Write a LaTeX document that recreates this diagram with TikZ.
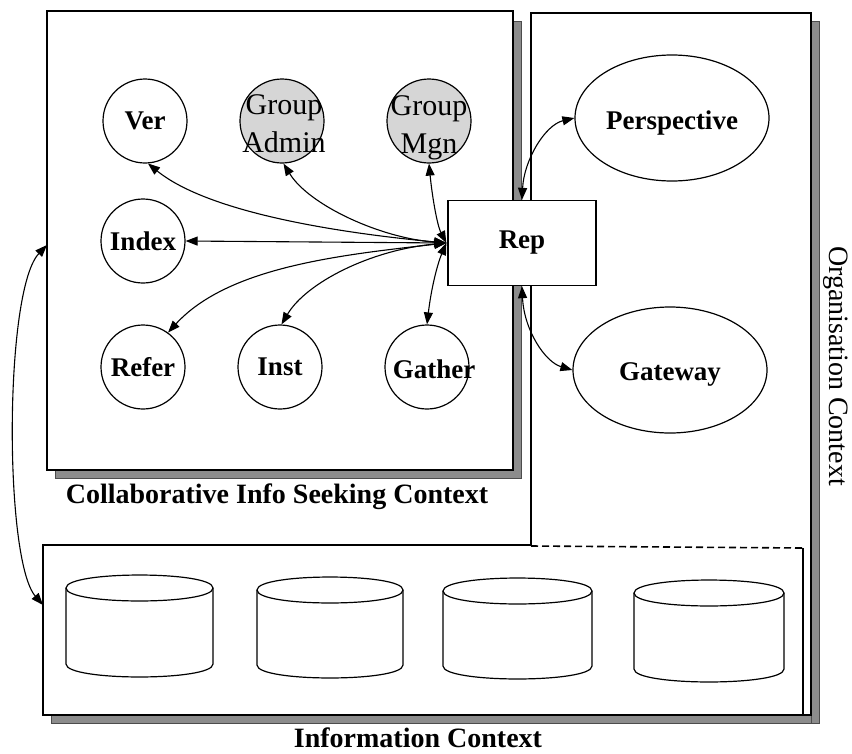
\documentclass[tikz,border=0pt]{standalone}
\usepackage{fontspec}
\setmainfont{Liberation Serif}
\usetikzlibrary{shapes.geometric,arrows.meta}

% drum-shaped data store: name, left x, right x, top rim y, bottom rim y
\newcommand\dbdrum[5]{%
  \coordinate (#1) at ({(#2+#3)/2},{(#4+#5)/2});
  \draw[drum] (#2,#4) .. controls (#2,#4-17.3) and (#3,#4-17.3) .. (#3,#4)
    -- (#3,#5) .. controls (#3,#5+17.3) and (#2,#5+17.3) .. (#2,#5) -- cycle;
  \draw[drum] (#2,#4) .. controls (#2,#4+17.3) and (#3,#4+17.3) .. (#3,#4);
}
\newcommand\agentfont{\fontsize{27}{32}\selectfont\bfseries}
\newcommand\groupfont{\fontsize{30}{38}\selectfont}
\newcommand\ctxfont{\fontsize{28}{32}\selectfont\bfseries}

\begin{document}
\begin{tikzpicture}[x=1pt,y=-1pt,
  frame/.style={draw,line width=1.3pt,fill=white},
  shade/.style={fill=black!45,draw=black!70,line width=0.6pt},
  agent/.style={circle,draw,line width=1.2pt,fill=white,minimum size=84pt,inner sep=0pt,font=\agentfont},
  groupagent/.style={agent,fill=black!16},
  grouptext/.style={align=center,font=\groupfont,inner sep=0pt},
  oval/.style={ellipse,draw,line width=1.2pt,fill=white,minimum width=194pt,minimum height=126pt,inner sep=0pt,font=\agentfont},
  repbox/.style={rectangle,draw,line width=1.3pt,fill=white,minimum width=148pt,minimum height=85pt,inner sep=0pt,font=\agentfont},
  conn/.style={line width=1.1pt,{Triangle[length=12pt,width=9pt]}-{Triangle[length=12pt,width=9pt]}},
  drum/.style={line width=1.2pt,fill=white},
  ctxlabel/.style={font=\ctxfont,inner sep=0pt}]

\useasboundingbox[fill=white] (0,0) rectangle (852,753);

% ---- context frames with drop shadows ----
\fill[shade] (539,21) rectangle (819,723);
\fill[shade] (51,553) rectangle (811,723);
\draw[frame] (531,13) rectangle (811,715);
\fill[white] (43,545) rectangle (803,715);
\draw[line width=1.3pt] (531,545) -- (43,545) -- (43,715) -- (803,715) -- (803,548);
\draw[line width=1.6pt,dashed,dash pattern=on 7pt off 4pt] (531,546) -- (803,548);
\draw[line width=1.3pt] (531,13) -- (531,545);
\fill[shade] (55,21) rectangle (521,478);
\draw[frame] (47,11) rectangle (513,470);

% ---- context labels ----
\node[ctxlabel] (cislabel) at (277,497) {Collaborative Info Seeking Context};
\node[ctxlabel] (infolabel) at (418,738) {Information Context};
\node[inner sep=0pt,font=\fontsize{28}{30}\selectfont,rotate=-90] (orglabel) at (836,366) {Organisation Context};

% ---- agents ----
\node[agent] (ver) at (145,121) {Ver};
\node[groupagent] (gadmin) at (282,121) {};
\node[grouptext] (gadmintxt) at (284,124) {Group\\Admin};
\node[groupagent] (gmgn) at (429,121) {};
\node[grouptext] (gmgntxt) at (429,128) {Group\\Mgn};
\node[agent] (index) at (143,241) {Index};
\node[agent] (refer) at (143,367) {Refer};
\node[agent] (inst) at (280,367) {Inst};
\node[agent] (gather) at (427,367) {};
\node[font=\agentfont,inner sep=0pt] (gathertxt) at (434,369) {Gather};
\node[repbox] (rep) at (522,243) {Rep};
\node[oval] (persp) at (672,118) {};
\node[font=\agentfont,inner sep=0pt] (persptxt) at (672,123) {Perspective};
\node[oval] (gateway) at (670,370) {};
\node[font=\agentfont,inner sep=0pt] (gatewaytxt) at (670,374) {Gateway};

\coordinate (hub) at ([xshift=-1pt]rep.west);

% ---- links from the repository hub ----
\draw[conn] (hub) .. controls (340,233) and (209,213) .. (ver.-86);
\draw[conn] (hub) .. controls (380,238) and (309,205) .. (gadmin.-88);
\draw[conn] (hub) .. controls (437,225) and (432,195) .. (gmgn.-90);
\draw[conn] (hub) -- (index.east);
\draw[conn] (hub) .. controls (340,255) and (228,267) .. (refer.54);
\draw[conn] (hub) .. controls (370,250) and (306,283) .. (inst.88);
\draw[conn] (hub) .. controls (437,265) and (431,290) .. (gather.90);

% ---- links into the organisation context ----
\draw[conn] (rep.north) .. controls (524,160) and (545,125) .. (persp.west);
\draw[conn] (rep.south) .. controls (524,330) and (545,362) .. (gateway.west);

% ---- link between the seeking and information contexts ----
\coordinate (cisW) at (47,245);
\coordinate (infoW) at (43,605);
\draw[conn] (cisW) .. controls (4,290) and (4,560) .. (infoW);

% ---- information stores ----
\dbdrum{db1}{66}{213}{588}{664}
\dbdrum{db2}{257}{403}{590}{665}
\dbdrum{db3}{443}{592}{591}{666}
\dbdrum{db4}{634}{784}{593}{669}

\end{tikzpicture}
\end{document}
